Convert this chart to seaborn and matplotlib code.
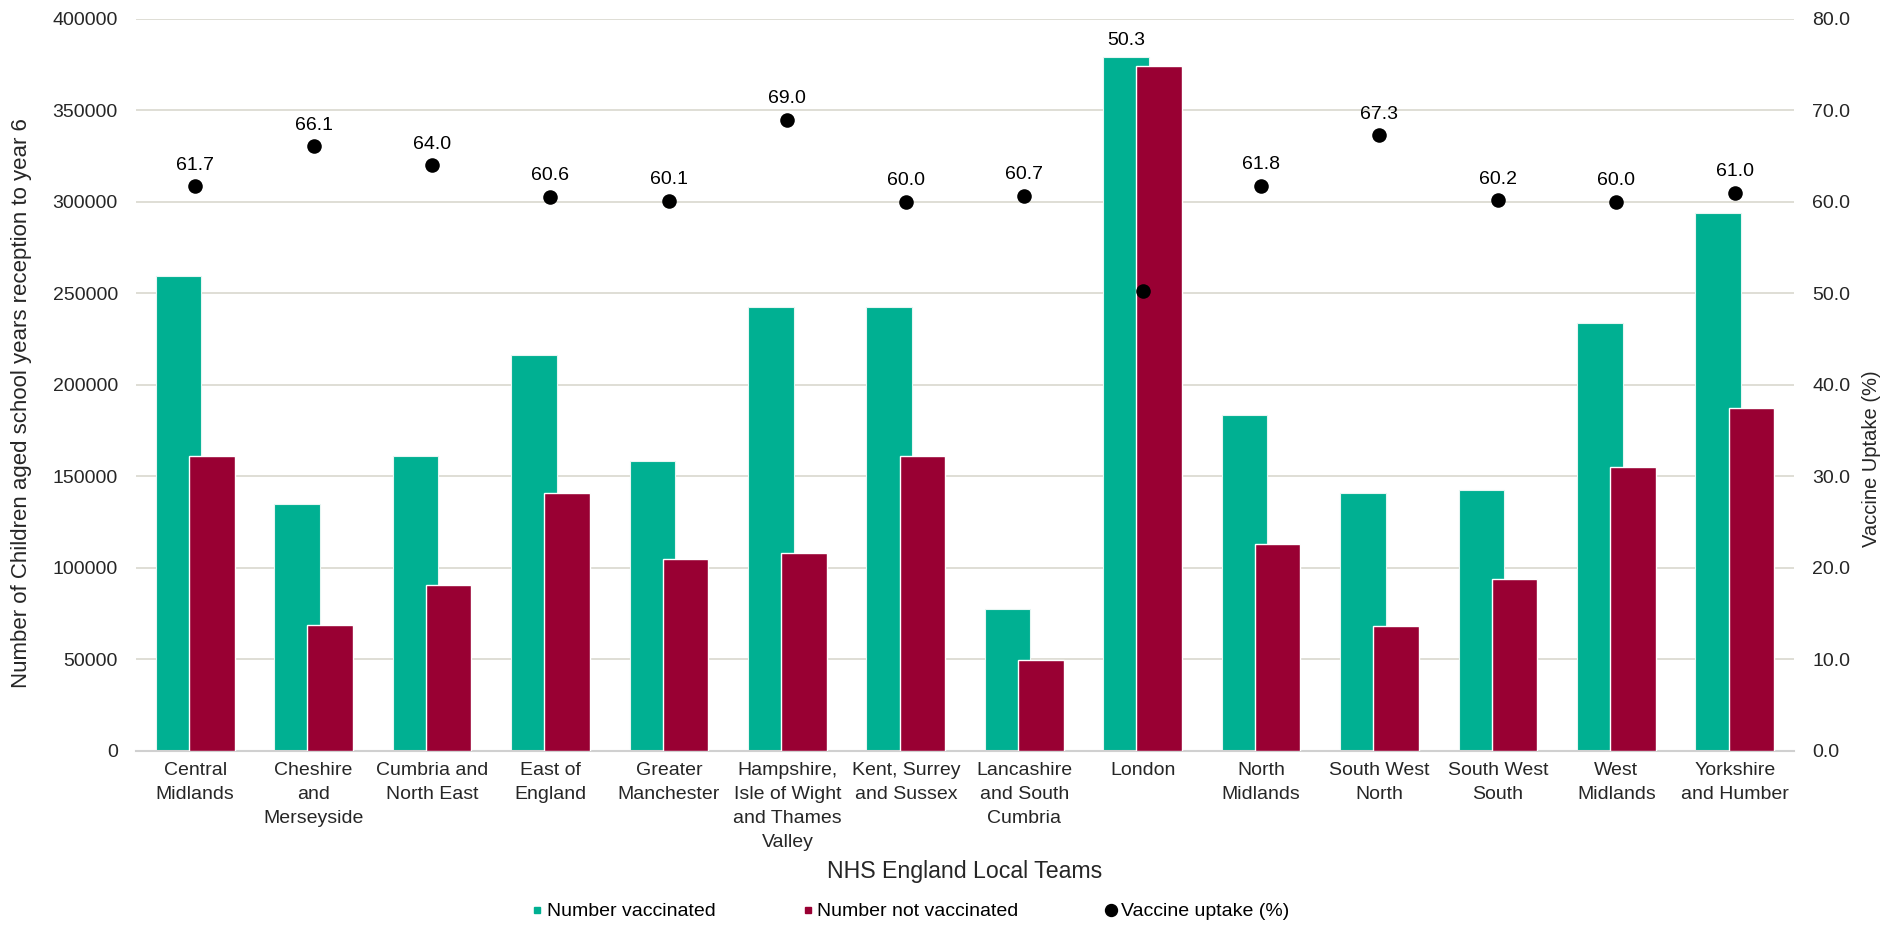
import numpy as np
import pandas as pd
import matplotlib
matplotlib.use("Agg")
import matplotlib.pyplot as plt
import seaborn as sns
from matplotlib.lines import Line2D

categories = ["Central\nMidlands", "Cheshire\nand\nMerseyside", "Cumbria and\nNorth East",
              "East of\nEngland", "Greater\nManchester",
              "Hampshire,\nIsle of Wight\nand Thames\nValley", "Kent, Surrey\nand Sussex",
              "Lancashire\nand South\nCumbria", "London", "North\nMidlands",
              "South West\nNorth", "South West\nSouth", "West\nMidlands", "Yorkshire\nand Humber"]
vaccinated = [259400, 134900, 161000, 216400, 158300, 242600, 242600,
              77600, 379200, 183800, 141100, 142600, 233900, 293800]
not_vaccinated = [161000, 68800, 90500, 141100, 105100, 108400, 161200,
                  49900, 374500, 113300, 68300, 93800, 155400, 187200]
uptake = [61.7, 66.1, 64.0, 60.6, 60.1, 69.0, 60.0, 60.7, 50.3, 61.8, 67.3, 60.2, 60.0, 61.0]

left_ticks = list(range(0, 400001, 50000))
right_ticks = [float(v) for v in range(0, 81, 10)]

GREEN = "#00B092"
RED = "#990033"
GRID = "#DCDBD2"

sns.set_theme(style="white")
plt.rcParams['font.family'] = ['Liberation Sans', 'DejaVu Sans']
plt.rcParams['text.color'] = '#000000'

FS = 14

fig = plt.figure(figsize=(19.01, 9.25), dpi=100)
ax = fig.add_axes([0.07154, 0.18811, 0.87217, 0.79135])

n = len(categories)
df = pd.DataFrame({"team": categories, "vac": vaccinated, "notvac": not_vaccinated})

bw = 0.385
off = 0.14
sns.barplot(data=df, x="team", y="vac", color=GREEN, width=bw, saturation=1,
            edgecolor="#E6F6F2", linewidth=0.8, ax=ax, zorder=2)
npatch = len(ax.patches)
for p in ax.patches:
    p.set_x(p.get_x() - off)
sns.barplot(data=df, x="team", y="notvac", color=RED, width=bw, saturation=1,
            edgecolor="white", linewidth=1.0, ax=ax, zorder=3)
for p in ax.patches[npatch:]:
    p.set_x(p.get_x() + off)

ax.set_xlim(-0.5, n - 0.5)
ax.set_ylim(0, 400000)
ax.set_yticks(left_ticks)
ax.set_yticklabels([str(v) for v in left_ticks], fontsize=FS)
ax.set_xticks(range(n))
ax.set_xticklabels(categories, fontsize=FS, linespacing=1.54)
ax.tick_params(axis='x', length=0, pad=8)
ax.tick_params(axis='y', length=0, pad=13)
ax.yaxis.grid(True, color=GRID, linewidth=1.3, zorder=0)
ax.set_axisbelow(True)
for s in ["top", "left", "right"]:
    ax.spines[s].set_visible(False)
ax.spines["bottom"].set_color("#D0D0D0")
ax.spines["bottom"].set_linewidth(1.5)
ax.set_xlabel("NHS England Local Teams", fontsize=16.7)
ax.xaxis.set_label_coords(0.5, (751 - 872) / 732)
ax.xaxis.label.set_va("center")
ax.set_ylabel("Number of Children aged school years reception to year 6", fontsize=16)
ax.yaxis.set_label_coords(-0.0688, 0.476)
ax.yaxis.label.set_va("center")

ax2 = ax.twinx()
sns.scatterplot(x=np.arange(n), y=uptake, color="black", s=110, edgecolor="black",
                linewidth=0, ax=ax2, zorder=5)
ax2.set_ylim(0, 80)
ax2.set_yticks(right_ticks)
ax2.set_yticklabels([f"{v:.1f}" for v in right_ticks], fontsize=FS)
ax2.tick_params(axis='y', length=0, pad=13)
for s in ["top", "left", "right", "bottom"]:
    ax2.spines[s].set_visible(False)
ax2.set_ylabel("Vaccine Uptake (%)", fontsize=14.5)
ax2.yaxis.set_label_coords(1.047, 0.399)
ax2.yaxis.label.set_va("center")
ax2.grid(False)

for i, v in enumerate(uptake):
    top_bar = max(vaccinated[i], not_vaccinated[i])
    dot_in_left_units = v / 80 * 400000
    if dot_in_left_units < top_bar:
        # label moved above the bars when the dot sits inside them
        ax.annotate(f"{v:.1f}", (i - off, vaccinated[i]), xytext=(0, 9),
                    textcoords="offset points", ha="center", va="baseline",
                    fontsize=FS, zorder=6)
    else:
        ax2.annotate(f"{v:.1f}", (i, v), xytext=(0, 12), textcoords="offset points",
                     ha="center", va="baseline", fontsize=FS)

handles = [Line2D([], [], marker="s", linestyle="none", color=GREEN, markersize=5),
           Line2D([], [], marker="s", linestyle="none", color=RED, markersize=5),
           Line2D([], [], marker="o", linestyle="none", color="black", markersize=8.6)]
fig.legend(handles, ["Number vaccinated", "Number not vaccinated", "Vaccine uptake (%)"],
           loc="center", bbox_to_anchor=(0.479, 0.0144), ncol=3, frameon=False,
           fontsize=FS, handletextpad=0.25, columnspacing=4.5, handlelength=0.5,
           borderpad=0, borderaxespad=0)

fig.savefig("out.png", dpi=100)
